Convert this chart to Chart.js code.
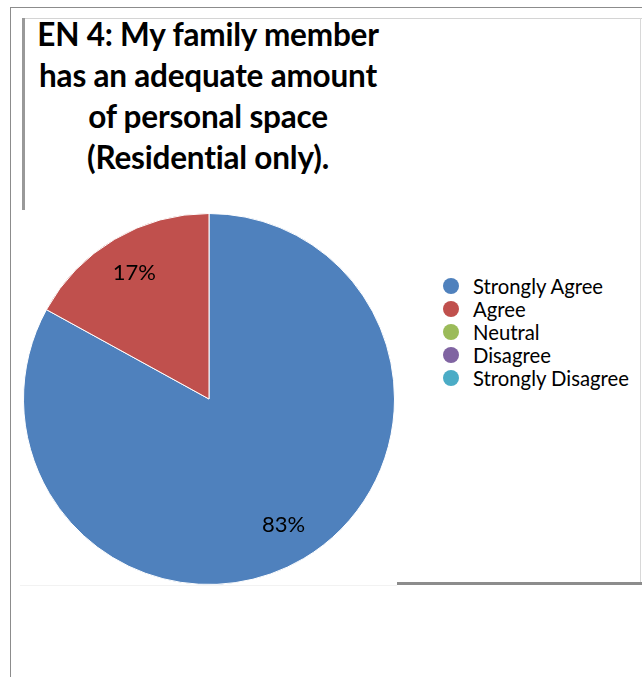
<!DOCTYPE html>
<html>
<head>
<meta charset="utf-8">
<script src="https://cdn.jsdelivr.net/npm/chart.js@4.4.1/dist/chart.umd.min.js"></script>
<style>
  html, body { margin: 0; padding: 0; background: #fff; }
  body { width: 642px; height: 677px; position: relative; overflow: hidden; font-family: Lato, "Liberation Sans", sans-serif; }
  .ln { position: absolute; }
  #title {
    position: absolute; left: 18px; top: 14px; width: 380px;
    text-align: center; font-weight: bold; font-size: 31.5px; line-height: 41px; color: #000;
    letter-spacing: -0.2px;
  }
  #pieWrap { position: absolute; left: 22px; top: 211px; width: 374px; height: 376px; }
  #legend { position: absolute; left: 443px; top: 274px; font-size: 20.3px; color: #000; }
  #legend .item { display: flex; align-items: center; height: 23px; }
  #legend .dot { width: 16px; height: 16px; border-radius: 50%; margin-right: 14px; }
</style>
</head>
<body>
<!-- frame lines around the chart object -->
<div class="ln" style="left:10px;top:7px;width:632px;height:1px;background:#8c8c8c"></div>
<div class="ln" style="left:10px;top:7px;width:1px;height:670px;background:#8c8c8c"></div>
<div class="ln" style="left:22px;top:18px;width:620px;height:1px;background:#d4d4d4"></div>
<div class="ln" style="left:22px;top:18px;width:3px;height:192px;background:#999"></div>
<div class="ln" style="left:640px;top:18px;width:1px;height:566px;background:#d8d8d8"></div>
<div class="ln" style="left:397px;top:582px;width:245px;height:3px;background:#8c8c8c"></div>
<div class="ln" style="left:20px;top:585px;width:377px;height:1px;background:#f2f2f2"></div>

<div id="title">EN 4: My family member<br>has an adequate amount<br>of personal space<br>(Residential only).</div>
<div id="pieWrap"><canvas id="pie"></canvas></div>
<div id="legend"></div>

<script>
// Survey responses (percent of respondents)
const categories = ['Strongly Agree', 'Agree', 'Neutral', 'Disagree', 'Strongly Disagree'];
const percentages = [83, 17, 0, 0, 0];
const sliceColors = ['#4F81BD', '#C0504D', '#9BBB59', '#8064A2', '#4BACC6'];

// Percent labels placed most of the way out along each slice's mid-angle
const sliceLabels = {
  id: 'sliceLabels',
  afterDatasetsDraw(chart) {
    const { ctx } = chart;
    const meta = chart.getDatasetMeta(0);
    ctx.save();
    ctx.font = '22px Lato, "Liberation Sans", sans-serif';
    ctx.fillStyle = '#000';
    ctx.textAlign = 'center';
    ctx.textBaseline = 'middle';
    meta.data.forEach((arc, i) => {
      const v = percentages[i];
      if (!v) return;
      const p = arc.getProps(['x', 'y', 'startAngle', 'endAngle', 'outerRadius']);
      const mid = (p.startAngle + p.endAngle) / 2;
      const r = p.outerRadius * 0.79;
      ctx.fillText(v + '%', p.x + Math.cos(mid) * r, p.y + Math.sin(mid) * r);
    });
    ctx.restore();
  }
};

new Chart(document.getElementById('pie'), {
  type: 'pie',
  data: {
    labels: categories,
    datasets: [{
      data: percentages,
      backgroundColor: sliceColors,
      borderColor: '#ffffff',
      borderWidth: 1
    }]
  },
  options: {
    responsive: true,
    maintainAspectRatio: false,
    animation: false,
    layout: { padding: 1 },
    plugins: {
      legend: { display: false },
      title: { display: false },
      tooltip: { enabled: false }
    }
  },
  plugins: [sliceLabels]
});

// Legend built from the same category and colour lists
const legendEl = document.getElementById('legend');
categories.forEach((name, i) => {
  const item = document.createElement('div');
  item.className = 'item';
  const dot = document.createElement('span');
  dot.className = 'dot';
  dot.style.background = sliceColors[i];
  const txt = document.createElement('span');
  txt.textContent = name;
  item.appendChild(dot);
  item.appendChild(txt);
  legendEl.appendChild(item);
});
</script>
</body>
</html>
